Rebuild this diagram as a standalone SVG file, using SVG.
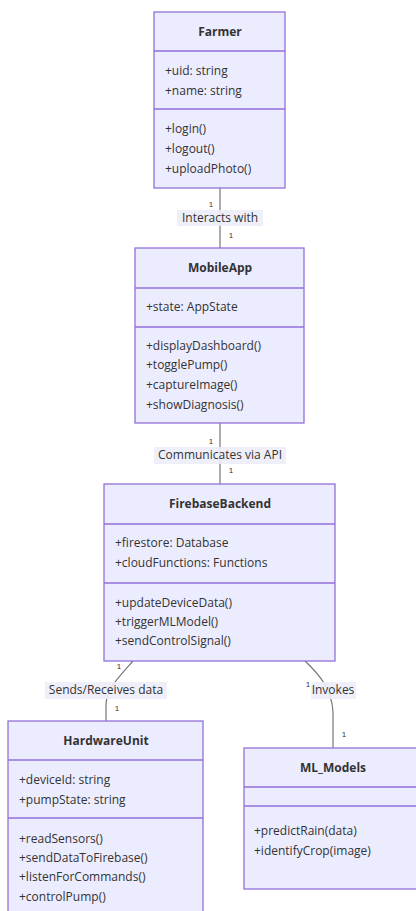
<svg xmlns="http://www.w3.org/2000/svg" width="416" height="911" viewBox="0 0 416 911">
<style>
.box{fill:#ECECFF;stroke:#9370DB;stroke-width:1.3}
.div{stroke:#9370DB;stroke-width:1.3}
.t{font-family:"Open Sans","Liberation Sans",Arial,sans-serif;font-size:12px;fill:#333}
.title{font-weight:bold;text-anchor:middle}
.edge{fill:none;stroke:#777;stroke-width:1.2}
.lblbg{fill:#EDEDF8;opacity:0.9}
.lbl{font-family:"Open Sans","Liberation Sans",Arial,sans-serif;font-size:12px;fill:#333;text-anchor:middle}
.card{font-family:"Liberation Sans",Arial,sans-serif;font-size:8px;fill:#333;text-anchor:middle}
</style>
<rect width="416" height="911" fill="#ffffff"/>
<g id="connectors">
  <path class="edge" d="M220,188 L220,248"/>
  <path class="edge" d="M220,423 L220,484"/>
  <path class="edge" d="M133,661 C118,678 106,690 106,705 L106,721"/>
  <path class="edge" d="M305,661 C320,675 332,690 333,712 L333,748"/>
  <rect class="lblbg" x="177" y="210" width="86" height="16"/>
  <text class="lbl" x="220" y="222">Interacts with</text>
  <text class="card" x="211" y="207">1</text>
  <text class="card" x="231" y="238">1</text>
  <rect class="lblbg" x="154" y="447" width="132" height="17"/>
  <text class="lbl" x="220" y="459">Communicates via API</text>
  <text class="card" x="211" y="444">1</text>
  <text class="card" x="231" y="473">1</text>
  <rect class="lblbg" x="45" y="682" width="122" height="17"/>
  <text class="lbl" x="106" y="694">Sends/Receives data</text>
  <text class="card" x="119" y="669">1</text>
  <text class="card" x="117" y="711">1</text>
  <rect class="lblbg" x="311" y="682" width="45" height="17"/>
  <text class="lbl" x="333" y="694">Invokes</text>
  <text class="card" x="308" y="687">1</text>
  <text class="card" x="344" y="737">1</text>
</g>
<g id="Farmer">
  <rect class="box" x="154" y="12" width="131" height="176"/>
  <line class="div" x1="154" y1="51" x2="285" y2="51"/>
  <line class="div" x1="154" y1="109" x2="285" y2="109"/>
  <text class="t title" x="220" y="36">Farmer</text>
  <text class="t" x="165" y="75">+uid: string</text>
  <text class="t" x="165" y="95">+name: string</text>
  <text class="t" x="165" y="133">+login()</text>
  <text class="t" x="165" y="153">+logout()</text>
  <text class="t" x="165" y="173">+uploadPhoto()</text>
</g>
<g id="MobileApp">
  <rect class="box" x="135" y="248" width="169" height="175"/>
  <line class="div" x1="135" y1="288" x2="304" y2="288"/>
  <line class="div" x1="135" y1="327" x2="304" y2="327"/>
  <text class="t title" x="220" y="272">MobileApp</text>
  <text class="t" x="146" y="311">+state: AppState</text>
  <text class="t" x="146" y="350">+displayDashboard()</text>
  <text class="t" x="146" y="369">+togglePump()</text>
  <text class="t" x="146" y="389">+captureImage()</text>
  <text class="t" x="146" y="409">+showDiagnosis()</text>
</g>
<g id="FirebaseBackend">
  <rect class="box" x="104" y="484" width="231" height="177"/>
  <line class="div" x1="104" y1="524" x2="335" y2="524"/>
  <line class="div" x1="104" y1="583" x2="335" y2="583"/>
  <text class="t title" x="220" y="508">FirebaseBackend</text>
  <text class="t" x="115" y="547">+firestore: Database</text>
  <text class="t" x="115" y="567">+cloudFunctions: Functions</text>
  <text class="t" x="115" y="607">+updateDeviceData()</text>
  <text class="t" x="115" y="626">+triggerMLModel()</text>
  <text class="t" x="115" y="645">+sendControlSignal()</text>
</g>
<g id="HardwareUnit">
  <rect class="box" x="8" y="721" width="195" height="200"/>
  <line class="div" x1="8" y1="760" x2="203" y2="760"/>
  <line class="div" x1="8" y1="818" x2="203" y2="818"/>
  <text class="t title" x="106" y="745">HardwareUnit</text>
  <text class="t" x="19" y="784">+deviceId: string</text>
  <text class="t" x="19" y="804">+pumpState: string</text>
  <text class="t" x="19" y="843">+readSensors()</text>
  <text class="t" x="19" y="862">+sendDataToFirebase()</text>
  <text class="t" x="19" y="881">+listenForCommands()</text>
  <text class="t" x="19" y="901">+controlPump()</text>
</g>
<g id="ML_Models">
  <rect class="box" x="244" y="748" width="178" height="141"/>
  <line class="div" x1="244" y1="787" x2="422" y2="787"/>
  <line class="div" x1="244" y1="806" x2="422" y2="806"/>
  <text class="t title" x="333" y="772">ML_Models</text>
  <text class="t" x="254" y="835">+predictRain(data)</text>
  <text class="t" x="254" y="855">+identifyCrop(image)</text>
</g>
</svg>
